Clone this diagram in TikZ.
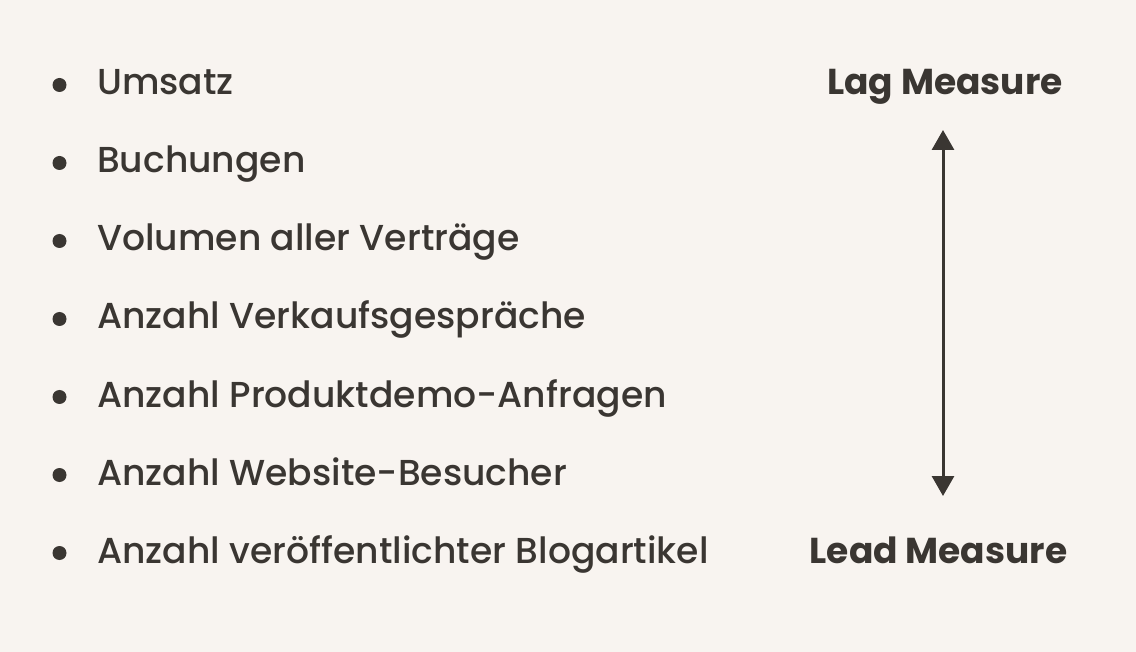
\documentclass[tikz,border=0pt]{standalone}
\usepackage{fontspec}
\setmainfont{Poppins}
\newfontfamily\medfont{Poppins Medium}
\usetikzlibrary{arrows.meta}
\definecolor{bg}{HTML}{F8F4F0}
\definecolor{ink}{HTML}{3A3632}
\begin{document}
\begin{tikzpicture}[x=1pt,y=-1pt,
  item/.style={anchor=base west,inner sep=0pt,text=ink,font=\fontsize{36.1}{42}\medfont},
  hd/.style={anchor=base,inner sep=0pt,text=ink,font=\fontsize{36}{42}\selectfont\bfseries},
  dot/.style={circle,fill=ink,inner sep=0pt,minimum size=14pt}]
\fill[bg] (0,0) rectangle (1136,652);
\useasboundingbox (0,0) rectangle (1136,652);
\foreach \t [count=\i] in {Umsatz,Buchungen,Volumen aller Verträge,Anzahl Verkaufsgespräche,Anzahl Produktdemo-Anfragen,Anzahl Website-Besucher,Anzahl veröffentlichter Blogartikel}{
  \node[dot] (b\i) at (59.5,{85+78*(\i-1)}) {};
  \node[item] (t\i) at (97,{95+78*(\i-1)}) {\t};
}
\node[hd] (lag) at (945,95) {Lag Measure};
\node[hd] (lead) at (938.5,563) {Lead Measure};
\coordinate (top) at (943,130);
\coordinate (bot) at (943,496);
\draw[ink,line width=3pt,{Triangle[length=20pt,width=22pt]}-{Triangle[length=20pt,width=22pt]}] (top) -- (bot);
\end{tikzpicture}
\end{document}
